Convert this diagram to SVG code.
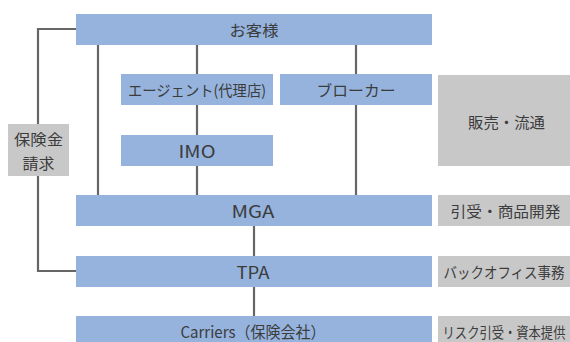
<svg xmlns="http://www.w3.org/2000/svg" width="570" height="342" viewBox="0 0 570 342">
<style>
.b{fill:#95b3dd}
.g{fill:#c8c8c9}
.t{font-family:"Noto Sans CJK JP","Noto Sans",sans-serif;font-size:15px;fill:#3c3c3c;text-anchor:middle;dominant-baseline:central}
.l{font-size:17px}
.c{stroke:#666;stroke-width:2.2;fill:none}
</style>
<rect width="570" height="342" fill="#fff"/>
<g id="connectors">
<polyline class="c" points="76,29 38,29 38,124"/>
<polyline class="c" points="38,176 38,271 76,271"/>
<line class="c" x1="98" y1="45" x2="98" y2="195"/>
<line class="c" x1="197" y1="45" x2="197" y2="74"/>
<line class="c" x1="197" y1="105" x2="197" y2="135"/>
<line class="c" x1="197" y1="166" x2="197" y2="195"/>
<line class="c" x1="356" y1="45" x2="356" y2="74"/>
<line class="c" x1="356" y1="105" x2="356" y2="195"/>
<line class="c" x1="254" y1="226" x2="254" y2="256"/>
<line class="c" x1="254" y1="287" x2="254" y2="316"/>
</g>
<g id="okyakusama"><rect class="b" x="76" y="14" width="356" height="31"/><text class="t" x="254" y="29.5" textLength="49" lengthAdjust="spacingAndGlyphs">お客様</text></g>
<g id="agent"><rect class="b" x="121" y="74" width="152" height="31"/><text class="t" x="197" y="89.5" textLength="138" lengthAdjust="spacingAndGlyphs">エージェント(代理店)</text></g>
<g id="broker"><rect class="b" x="280" y="74" width="152" height="31"/><text class="t" x="356" y="89.5" textLength="79" lengthAdjust="spacingAndGlyphs">ブローカー</text></g>
<g id="imo"><rect class="b" x="121" y="135" width="152" height="31"/><text class="t l" x="197" y="150.5" textLength="37" lengthAdjust="spacingAndGlyphs">IMO</text></g>
<g id="mga"><rect class="b" x="76" y="195" width="356" height="31"/><text class="t l" x="253" y="210.5" textLength="43" lengthAdjust="spacingAndGlyphs">MGA</text></g>
<g id="tpa"><rect class="b" x="76" y="256" width="356" height="31"/><text class="t l" x="253" y="271.5" textLength="33" lengthAdjust="spacingAndGlyphs">TPA</text></g>
<g id="carriers"><rect class="b" x="76" y="316" width="356" height="26"/><text class="t" x="253" y="331" textLength="145" lengthAdjust="spacingAndGlyphs" style="font-size:16px">Carriers（保険会社）</text></g>
<g id="claim"><rect class="g" x="8" y="124" width="61" height="52"/><text class="t" x="38.5" y="138" textLength="49" lengthAdjust="spacingAndGlyphs">保険金</text><text class="t" x="38.5" y="162" textLength="32" lengthAdjust="spacingAndGlyphs">請求</text></g>
<g id="sales"><rect class="g" x="438" y="75" width="132" height="91"/><text class="t" x="506.5" y="121" textLength="77" lengthAdjust="spacingAndGlyphs">販売・流通</text></g>
<g id="underwriting"><rect class="g" x="438" y="195" width="132" height="31"/><text class="t" x="505.5" y="210.5" textLength="110" lengthAdjust="spacingAndGlyphs">引受・商品開発</text></g>
<g id="backoffice"><rect class="g" x="438" y="256" width="132" height="31"/><text class="t" transform="translate(504,271.5) scale(0.9,1)">バックオフィス事務</text></g>
<g id="risk"><rect class="g" x="438" y="316" width="132" height="26"/><text class="t" transform="translate(504,331) scale(0.82,1)">リスク引受・資本提供</text></g>
</svg>
